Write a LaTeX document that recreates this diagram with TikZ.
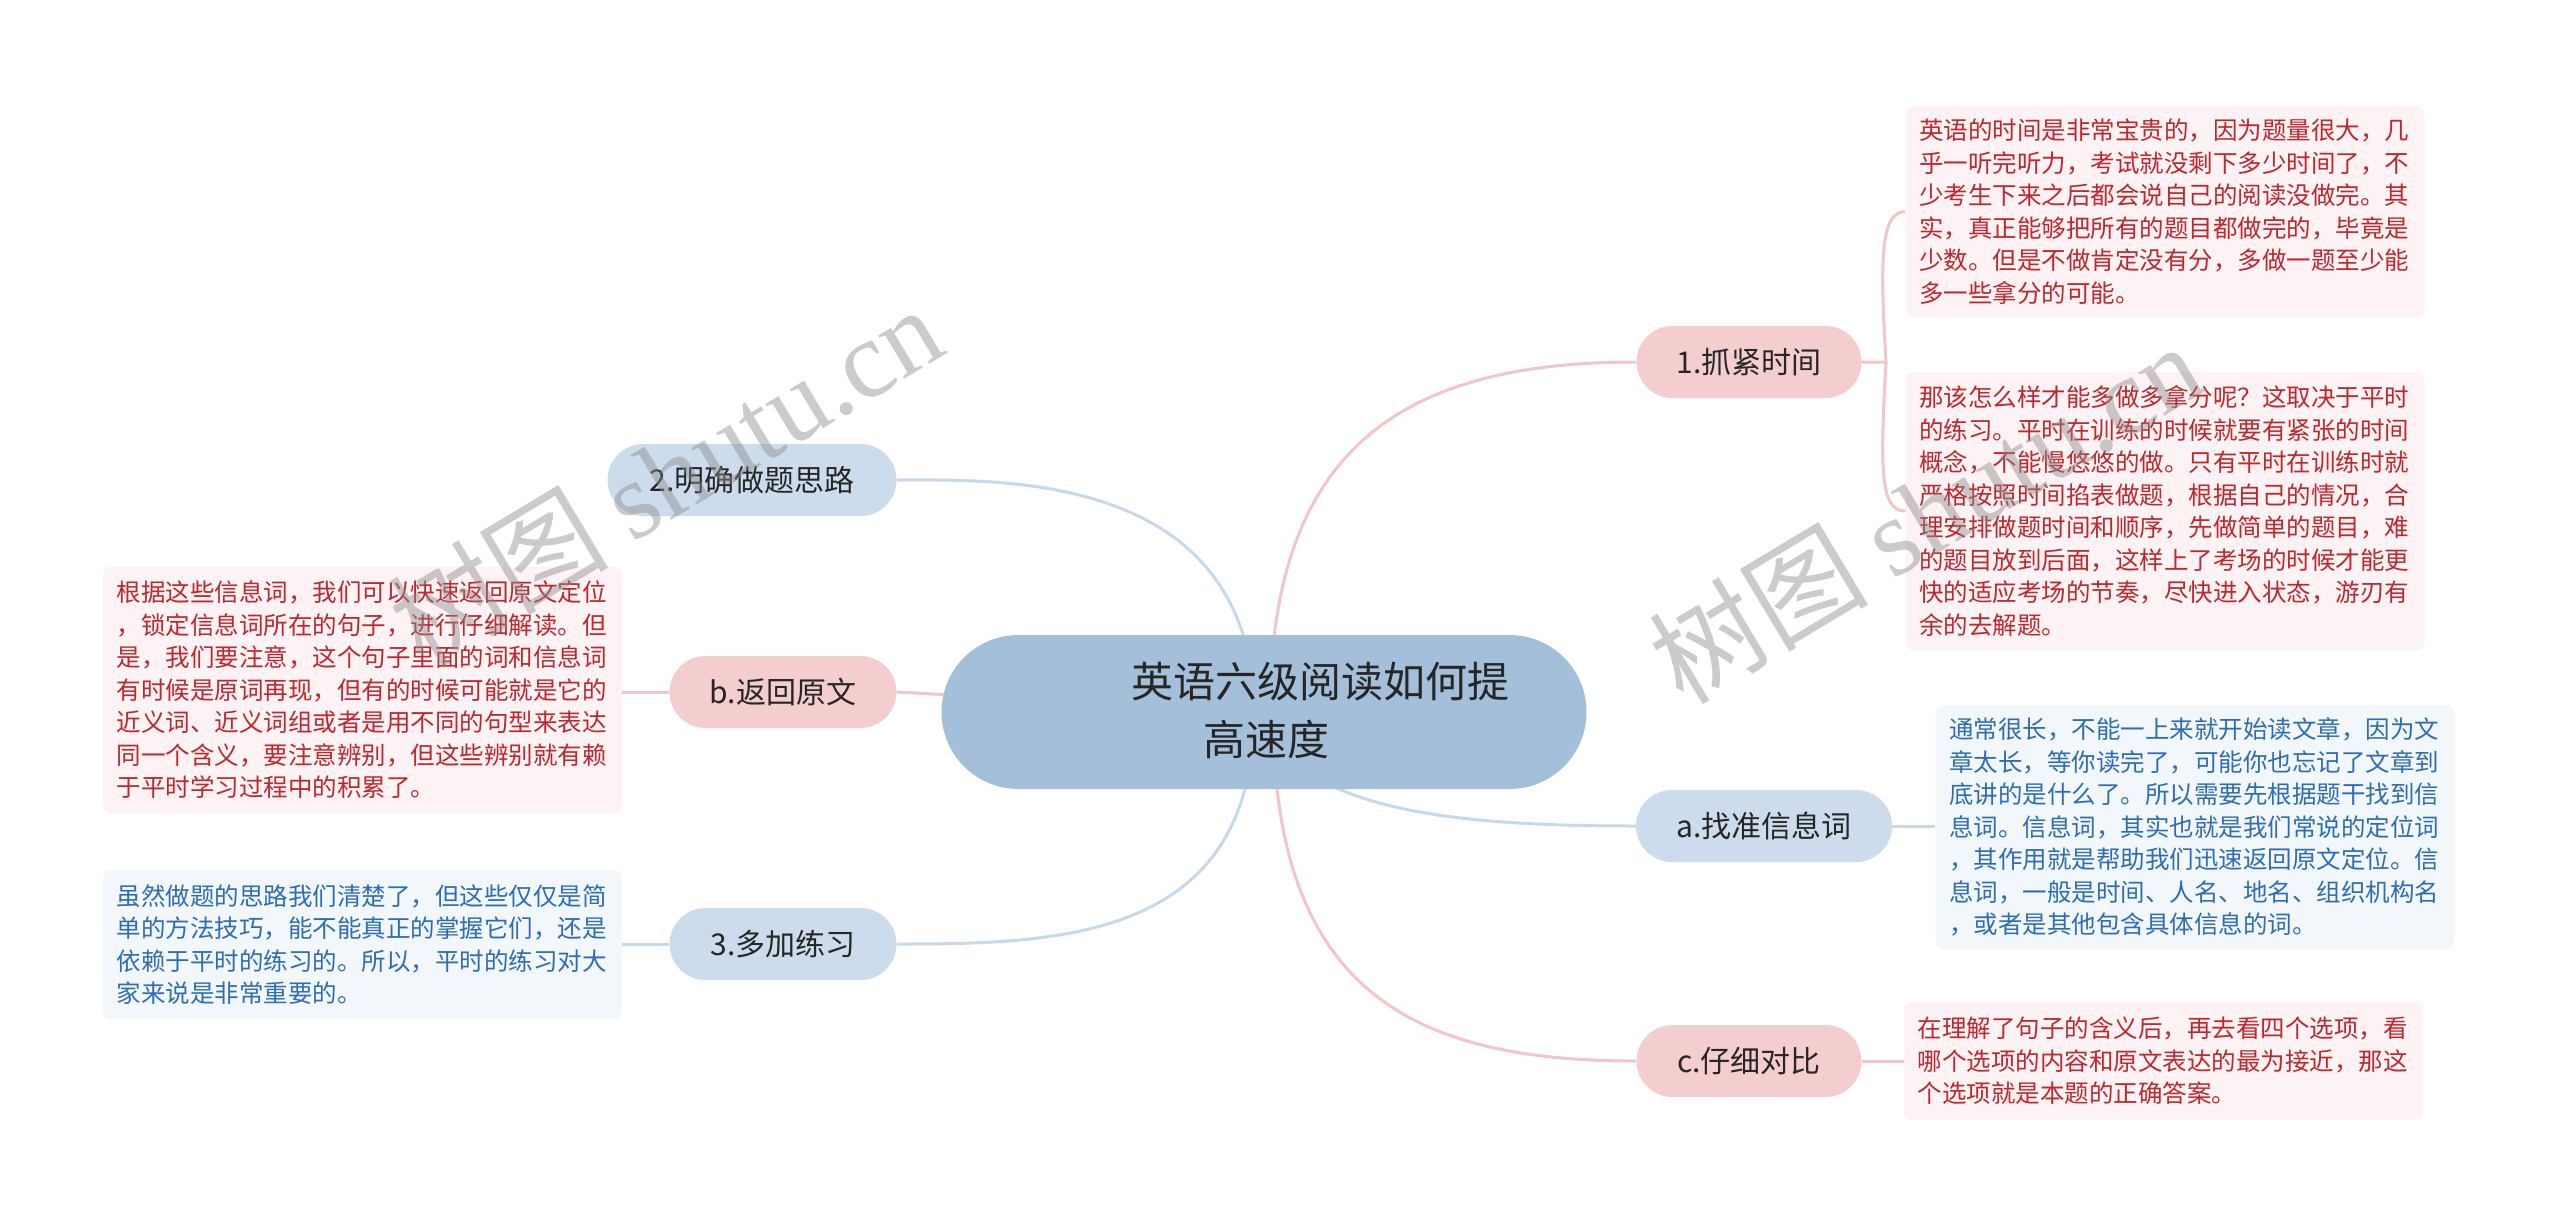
\documentclass[tikz,border=0pt]{standalone}
\usepackage{fontspec}
\setmainfont{Noto Sans CJK SC}
\newfontfamily\wmlatin{Liberation Serif}
\definecolor{cmain}{HTML}{A3BFDA}
\definecolor{cpink}{HTML}{F4CDCF}
\definecolor{cblue}{HTML}{CCDCEC}
\definecolor{cpinkbox}{HTML}{FDF3F4}
\definecolor{cbluebox}{HTML}{F2F7FC}
\definecolor{clpink}{HTML}{F2C6C8}
\definecolor{clblue}{HTML}{C6D9EB}
\definecolor{cred}{HTML}{C0262D}
\definecolor{cbluetext}{HTML}{2E6DB4}
\definecolor{cdark}{HTML}{262626}
\pgfdeclarelayer{back}
\pgfdeclarelayer{bg}
\pgfsetlayers{back,bg,main}
\begin{document}
\begin{tikzpicture}[x=1pt,y=-1pt,
  mainnode/.style={fill=cmain, rounded corners=77pt, minimum width=645pt, minimum height=154pt, inner sep=0pt},
  subnode/.style={rounded corners=36pt, minimum height=72pt, inner sep=0pt, text=cdark, font=\fontsize{30pt}{36pt}\selectfont},
  pinknode/.style={subnode, fill=cpink},
  bluenode/.style={subnode, fill=cblue},
  textbox/.style={rounded corners=8pt, align=left, text width=492pt, inner sep=0pt, minimum width=519pt, font=\fontsize{24.5pt}{32.5pt}\selectfont},
  pinkbox/.style={textbox, fill=cpinkbox, text=cred},
  bluebox/.style={textbox, fill=cbluebox, text=cbluetext},
  pinkline/.style={draw=clpink, line width=3pt},
  blueline/.style={draw=clblue, line width=3pt},
  watermark/.style={text=black!45, text opacity=0.45, rotate=31, font=\fontsize{110pt}{120pt}\selectfont}
]
\begin{pgfonlayer}{back}
\fill[white] (0,0) rectangle (2560,1227);
\end{pgfonlayer}
\useasboundingbox (0,0) rectangle (2560,1227);

% central
\node[mainnode] (central) at (1264,712) {};
\node[font=\fontsize{42pt}{58pt}\selectfont, align=left, text=cdark, inner sep=0pt] (ctitle) at (1320,711) {英语六级阅读如何提\\\hspace*{72pt}高速度};

% sub nodes
\node[pinknode, minimum width=225pt] (n1) at (1749,362) {1.抓紧时间};
\node[bluenode, minimum width=289pt] (n2) at (752,480) {2.明确做题思路};
\node[pinknode, minimum width=227pt] (nb) at (783,692) {b.返回原文};
\node[bluenode, minimum width=227pt] (n3) at (783,944) {3.多加练习};
\node[bluenode, minimum width=256pt] (na) at (1764,826) {a.找准信息词};
\node[pinknode, minimum width=225pt] (nc) at (1749,1061) {c.仔细对比};

% text boxes
\node[pinkbox, minimum height=211pt] (r1) at (2165,211.5) {英语的时间是非常宝贵的，因为题量很大，几\\乎一听完听力，考试就没剩下多少时间了，不\\少考生下来之后都会说自己的阅读没做完。其\\实，真正能够把所有的题目都做完的，毕竟是\\少数。但是不做肯定没有分，多做一题至少能\\多一些拿分的可能。};
\node[pinkbox, minimum height=278pt] (r2) at (2165,511) {那该怎么样才能多做多拿分呢？这取决于平时\\的练习。平时在训练的时候就要有紧张的时间\\概念，不能慢悠悠的做。只有平时在训练时就\\严格按照时间掐表做题，根据自己的情况，合\\理安排做题时间和顺序，先做简单的题目，难\\的题目放到后面，这样上了考场的时候才能更\\快的适应考场的节奏，尽快进入状态，游刃有\\余的去解题。};
\node[bluebox, minimum height=244pt] (ra) at (2195,827) {通常很长，不能一上来就开始读文章，因为文\\章太长，等你读完了，可能你也忘记了文章到\\底讲的是什么了。所以需要先根据题干找到信\\息词。信息词，其实也就是我们常说的定位词\\，其作用就是帮助我们迅速返回原文定位。信\\息词，一般是时间、人名、地名、组织机构名\\，或者是其他包含具体信息的词。};
\node[pinkbox, minimum height=118pt] (rc) at (2163.5,1061) {在理解了句子的含义后，再去看四个选项，看\\哪个选项的内容和原文表达的最为接近，那这\\个选项就是本题的正确答案。};
\node[pinkbox, minimum height=246pt] (rb) at (362.5,690) {根据这些信息词，我们可以快速返回原文定位\\，锁定信息词所在的句子，进行仔细解读。但\\是，我们要注意，这个句子里面的词和信息词\\有时候是原词再现，但有的时候可能就是它的\\近义词、近义词组或者是用不同的句型来表达\\同一个含义，要注意辨别，但这些辨别就有赖\\于平时学习过程中的积累了。};
\node[bluebox, minimum height=149pt] (r3) at (362.5,944.5) {虽然做题的思路我们清楚了，但这些仅仅是简\\单的方法技巧，能不能真正的掌握它们，还是\\依赖于平时的练习的。所以，平时的练习对大\\家来说是非常重要的。};

\coordinate (j1) at (1886,362);

\begin{pgfonlayer}{bg}
% central to children
\draw[pinkline] ([xshift=6pt]central.center) .. controls (1270,450) and (1400,362) .. (n1.west);
\draw[blueline] ([xshift=-9pt]central.center) .. controls (1250,470) and (1000,480) .. (n2.east);
\draw[pinkline] (central.center) -- (nb.east);
\draw[blueline] ([xshift=-10pt]central.center) .. controls (1254,940) and (1060,944) .. (n3.east);
\draw[blueline] (central.center) .. controls (1290,810) and (1450,826) .. (na.west);
\draw[pinkline] ([xshift=9pt]central.center) .. controls (1273,990) and (1410,1061) .. (nc.west);
% children to text boxes
\draw[pinkline] (n1.east) -- (j1) .. controls (1880,260) and (1880,212) .. (r1.west);
\draw[pinkline] (j1) .. controls (1880,470) and (1880,511) .. (r2.west);
\draw[pinkline] (nb.west) -- (rb.east |- nb.west);
\draw[blueline] (n3.west) -- (r3.east |- n3.west);
\draw[blueline] (na.east) -- (ra.west |- na.east);
\draw[pinkline] (nc.east) -- (rc.west);
\end{pgfonlayer}

% watermarks
\node[watermark] (wm1) at (665,475) {树图 {\wmlatin shutu.cn}};
\node[watermark] (wm2) at (1925,512) {树图 {\wmlatin shutu.cn}};
\end{tikzpicture}
\end{document}
